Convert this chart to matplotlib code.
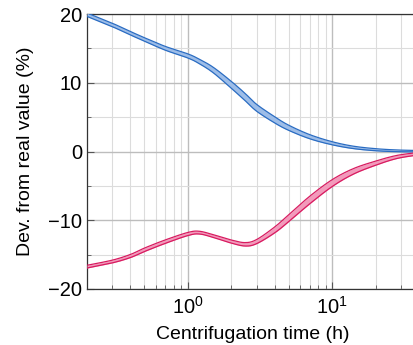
import numpy as np
import matplotlib.pyplot as plt
from matplotlib.ticker import LogLocator, MultipleLocator, NullFormatter

plt.rcParams['font.family'] = ['Liberation Sans', 'DejaVu Sans']

# ocitane vrednosti
t = [0.2, 0.3, 0.4, 0.5, 0.7, 1.0, 1.2, 1.5, 2.0, 2.5, 3.0, 4.0, 5.0, 7.0,
     10.0, 14.0, 20.0, 28.0, 40.0]

blue = [19.9, 18.4, 17.2, 16.3, 15.0, 13.9, 13.1, 11.85, 9.7, 7.9, 6.35,
        4.6, 3.45, 2.15, 1.2, 0.6, 0.26, 0.1, 0.04]
blue_w = [0.5, 0.5, 0.5, 0.5, 0.55, 0.6, 0.65, 0.8, 1.0, 1.05, 1.0,
          0.9, 0.75, 0.6, 0.45, 0.35, 0.3, 0.25, 0.2]

red = [-16.75, -16.0, -15.2, -14.3, -13.1, -12.0, -11.8, -12.3, -13.1, -13.5,
       -13.1, -11.4, -9.7, -7.05, -4.6, -2.9, -1.7, -0.8, -0.3]
red_w = [0.4, 0.4, 0.45, 0.5, 0.5, 0.45, 0.4, 0.4, 0.45, 0.5, 0.6,
         0.85, 1.0, 1.1, 1.0, 0.8, 0.6, 0.45, 0.35]

blue_edge = '#2a6cc2'
blue_fill = '#9dbde8'
red_edge = '#d81b60'
red_fill = '#f29abb'


def smooth(x, y, n=20):
    # Catmull-Rom kroz tacke, u log(x)
    lx = np.log10(x)
    y = np.asarray(y, float)
    P = np.column_stack([lx, y])
    P = np.vstack([2*P[0] - P[1], P, 2*P[-1] - P[-2]])
    out = []
    s = np.linspace(0, 1, n, endpoint=False)[:, None]
    for i in range(1, len(P) - 2):
        p0, p1, p2, p3 = P[i-1], P[i], P[i+1], P[i+2]
        seg = 0.5*((2*p1) + (-p0 + p2)*s + (2*p0 - 5*p1 + 4*p2 - p3)*s**2 +
                   (-p0 + 3*p1 - 3*p2 + p3)*s**3)
        out.append(seg)
    out.append(P[-2][None, :])
    out = np.vstack(out)
    return 10**out[:, 0], out[:, 1]


fig = plt.figure(figsize=(4.13, 3.45), dpi=100)
ax = fig.add_axes([87/413, 56/345, (419-87)/413, 275/345])

for c, w, ec, fc in [(blue, blue_w, blue_edge, blue_fill),
                     (red, red_w, red_edge, red_fill)]:
    c = np.array(c)
    w = np.array(w)
    xs, lo = smooth(t, c - w/2)
    _, hi = smooth(t, c + w/2)
    ax.fill_between(xs, lo, hi, color=fc, lw=0, zorder=3)
    ax.plot(xs, lo, color=ec, lw=0.9, zorder=4)
    ax.plot(xs, hi, color=ec, lw=0.9, zorder=4)

ax.set_xscale('log')
ax.set_xlim(0.2, 40)
ax.set_ylim(-20, 20)
ax.yaxis.set_major_locator(MultipleLocator(10))
ax.yaxis.set_minor_locator(MultipleLocator(5))
ax.xaxis.set_major_locator(LogLocator(base=10))
ax.xaxis.set_minor_locator(LogLocator(base=10, subs=np.arange(2, 10)))
ax.xaxis.set_minor_formatter(NullFormatter())

ax.grid(which='major', color='#bdbdbd', lw=1.0)
ax.grid(which='minor', color='#dcdcdc', lw=0.8)
ax.set_axisbelow(True)

ax.tick_params(which='both', direction='in', labelsize=14.5, color='#555555')
ax.tick_params(which='major', length=5)
ax.tick_params(which='minor', length=3)
ax.tick_params(axis='x', which='major', pad=5)
for s in ax.spines.values():
    s.set_color('#333333')
    s.set_linewidth(0.9)

ax.set_xlabel('Centrifugation time (h)', fontsize=14, labelpad=6)
ax.set_ylabel('Dev. from real value (%)', fontsize=14, labelpad=10)

fig.savefig('out.png', dpi=100)
